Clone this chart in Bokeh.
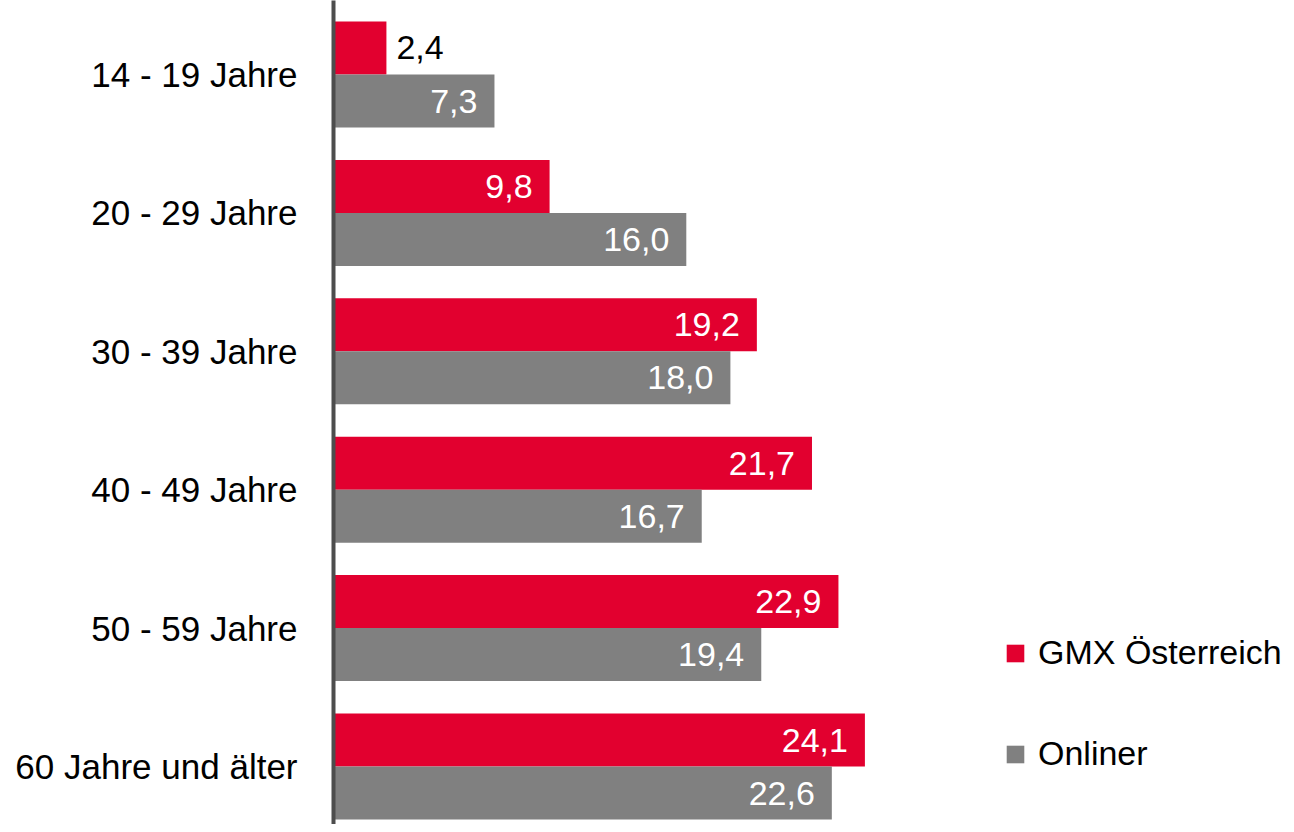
from bokeh.plotting import figure
from bokeh.models import Range1d, FixedTicker, ColumnDataSource, Legend, LegendItem
from bokeh.core.properties import value
from bokeh.embed import file_html
from bokeh.resources import INLINE

categories = ["14 - 19 Jahre", "20 - 29 Jahre", "30 - 39 Jahre",
              "40 - 49 Jahre", "50 - 59 Jahre", "60 Jahre und älter"]
gmx = [2.4, 9.8, 19.2, 21.7, 22.9, 24.1]
onliner = [7.3, 16.0, 18.0, 16.7, 19.4, 22.6]
series_names = ["GMX Österreich", "Onliner"]

RED = "#E2002F"
GRAY = "#808080"
FONT = "Liberation Sans"
FS = "34px"

p = figure(width=1286, height=824, output_backend="svg", toolbar_location=None,
           x_range=Range1d(0, 43.22), y_range=Range1d(5.419, -0.5347),
           x_axis_location=None, min_border_left=333, min_border_right=0,
           min_border_top=0, min_border_bottom=0)
p.outline_line_color = None
p.xgrid.visible = False
p.ygrid.visible = False
p.background_fill_color = "white"

idx = list(range(len(categories)))
off = 0.1915
hh = 0.383

def fmt(v):
    return f"{v:.1f}".replace(".", ",")

src_g = ColumnDataSource(dict(y=[i - off for i in idx], v=gmx,
                              lab=[fmt(v) for v in gmx]))
src_o = ColumnDataSource(dict(y=[i + off for i in idx], v=onliner,
                              lab=[fmt(v) for v in onliner]))

rg = p.hbar(y="y", right="v", left=0, height=hh, source=src_g,
            fill_color=RED, line_color=None)
ro = p.hbar(y="y", right="v", left=0, height=hh, source=src_o,
            fill_color=GRAY, line_color=None)

for src in (src_g, src_o):
    d = src.data
    inside = [i for i, v in enumerate(d["v"]) if v >= 5]
    outside = [i for i, v in enumerate(d["v"]) if v < 5]
    if inside:
        p.text(x=[d["v"][i] for i in inside], y=[d["y"][i] for i in inside],
               text=[d["lab"][i] for i in inside], text_align="right",
               text_baseline="middle", x_offset=-17, text_color="white",
               text_font=value(FONT), text_font_size=FS)
    if outside:
        p.text(x=[d["v"][i] for i in outside], y=[d["y"][i] for i in outside],
               text=[d["lab"][i] for i in outside], text_align="left",
               text_baseline="middle", x_offset=10, text_color="black",
               text_font=value(FONT), text_font_size=FS)

yax = p.yaxis[0]
yax.ticker = FixedTicker(ticks=idx)
yax.major_label_overrides = {i: c for i, c in enumerate(categories)}
yax.major_tick_line_color = None
yax.minor_tick_line_color = None
yax.major_tick_out = 0
yax.major_tick_in = 0
yax.major_label_standoff = 36
yax.axis_line_width = 4
yax.axis_line_color = "#4d4d4d"
yax.major_label_text_font = FONT
yax.major_label_text_font_size = "35px"
yax.major_label_text_color = "black"

legend = Legend(items=[LegendItem(label=series_names[0], renderers=[rg]),
                       LegendItem(label=series_names[1], renderers=[ro])],
                location=(671, 51), orientation="vertical",
                glyph_width=22, glyph_height=22, label_standoff=12,
                spacing=62, padding=0, margin=0,
                label_text_font=FONT, label_text_font_size=FS,
                label_text_color="black",
                border_line_color=None, background_fill_alpha=0)
p.add_layout(legend, "center")

open("out.html", "w").write(file_html(p, INLINE))
